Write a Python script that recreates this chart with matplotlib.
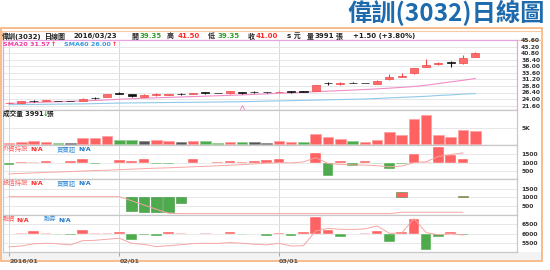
import numpy as np
import matplotlib.pyplot as plt
from matplotlib.patches import Rectangle

plt.rcParams['font.family'] = ['DejaVu Sans', 'Noto Sans CJK TC']

W, H = 550, 270

# ---- data ----
opens = [22.5, 22.7, 23.3, 23.3, 23.3, 23.3, 23.3, 24.5, 24.7, 26.4,
         25.7, 24.8, 25.4, 25.4, 25.8, 25.8, 26.4, 26.3, 26.1, 26.5,
         26.6, 26.6, 26.5, 26.7, 26.7, 27.0, 29.9, 29.5, 29.8, 29.9,
         29.5, 31.5, 32.1, 33.6, 35.9, 36.9, 37.5, 37.3, 39.35]
highs = [22.8, 23.4, 23.6, 23.7, 23.4, 23.4, 24.2, 24.7, 25.9, 26.6,
         25.8, 25.7, 26.3, 25.9, 26.1, 26.3, 26.6, 26.4, 27.1, 26.6,
         26.8, 26.7, 26.8, 26.9, 26.8, 29.3, 30.3, 30.3, 30.2, 29.9,
         30.9, 33.1, 33.5, 35.4, 38.6, 37.8, 38.1, 40.2, 41.5]
lows = [22.4, 22.6, 23.0, 23.2, 23.1, 23.1, 23.2, 24.1, 24.6, 25.7,
        24.8, 24.6, 25.2, 25.3, 25.4, 25.7, 26.0, 26.1, 26.0, 26.0,
        26.3, 26.3, 26.5, 26.4, 26.5, 26.9, 29.3, 29.0, 29.8, 29.8,
        29.4, 31.0, 32.0, 33.2, 35.7, 36.6, 35.7, 36.9, 39.35]
closes = [22.7, 23.1, 23.2, 23.5, 23.2, 23.2, 24.1, 24.3, 25.8, 25.9,
          25.0, 25.3, 26.0, 25.7, 25.7, 26.2, 26.3, 26.2, 27.0, 26.4,
          26.5, 26.5, 26.7, 26.6, 26.6, 29.2, 29.8, 29.8, 29.8, 29.8,
          30.8, 32.1, 32.5, 35.3, 36.4, 37.3, 37.3, 39.3, 41.0]
sma20 = [22.4, 22.55, 22.7, 22.85, 23.0, 23.15, 23.3, 23.45, 23.65, 23.9,
         24.1, 24.3, 24.45, 24.6, 24.75, 24.9, 25.05, 25.2, 25.35, 25.5,
         25.7, 25.9, 26.1, 26.3, 26.5, 26.7, 26.9, 27.1, 27.3, 27.5,
         27.75, 28.0, 28.3, 28.6, 29.1, 29.7, 30.3, 30.9, 31.57]
sma60 = [21.9, 21.95, 22.0, 22.05, 22.1, 22.15, 22.2, 22.3, 22.4, 22.5,
         22.55, 22.6, 22.65, 22.7, 22.75, 22.8, 22.85, 22.9, 22.95, 23.0,
         23.1, 23.2, 23.3, 23.4, 23.5, 23.6, 23.7, 23.8, 23.9, 24.0,
         24.2, 24.4, 24.6, 24.8, 25.0, 25.3, 25.5, 25.8, 26.0]
volume = [500, 800, 1100, 800, 400, 400, 2000, 1850, 2550, 1200,
          1200, 900, 1200, 900, 700, 900, 1100, 500, 800, 700,
          700, 500, 1000, 600, 700, 3150, 2150, 1550, 1100, 700,
          1400, 3750, 2950, 7750, 9000, 2950, 2150, 4300, 3991]
volume_colors = 'rrrrgkrrrggkrrkrggrgkkrrgrrrgrrrrrrrrrr'
foreign_net = [-120, 60, 20, 120, 10, 100, 215, -80, 10, 140,
               100, 215, -100, -80, 10, 200, 10, 60, 100, 60,
               80, 160, 200, -40, -30, 550, -780, 100, -200, 100,
               -50, -350, -100, 490, 20, 900, 450, 200, np.nan]
foreign_hold = [340, 370, 400, 430, 450, 480, 510, 540, 560, 590,
                620, 650, 680, 700, 730, 760, 790, 820, 850, 890,
                930, 970, 1000, 990, 1050, 1300, 950, 900, 870, 860,
                820, 760, 800, 1000, 1060, 1370, 1480, 1580, np.nan]
trust_net = [np.nan] * 10 + [-790, -850, -890, -890, -320] + [np.nan] * 17 + \
            [340, np.nan, np.nan, np.nan, np.nan, 100, np.nan]
trust_hold = [1040] * 10 + [790, 540, 290, 50] + [30] * 18 + [110] * 6 + [np.nan]
margin_net = [-10, 50, 130, 35, -50, -80, 200, 35, 35, 65,
              -360, -90, -145, 90, 35, -15, 35, -15, 110, -50,
              -15, -130, 55, -145, 70, 900, 200, -180, -30, 20,
              145, -450, 70, 800, -900, -180, 90, -90, np.nan]
margin_line = [5290, 5330, 5450, 5480, 5450, 5390, 5620, 5640, 5700, 5750,
               5480, 5420, 5300, 5350, 5400, 5460, 5480, 5470, 5520, 5480,
               5430, 5390, 5480, 5330, 5350, 6150, 6290, 6240, 6230, 6260,
               6420, 6020, 6030, 6820, 6060, 5940, 5990, 5930, np.nan]
price_ticks = [21.6, 24.0, 26.4, 28.8, 31.2, 33.6, 36.0, 38.4, 40.8, 43.2, 45.6]
month_ticks = [0, 9, 22]
month_labels = ['2016/01', '02/01', '03/01']

RED, GREEN, DARK = '#ff6262', '#4dab4d', '#555555'
x = np.arange(len(closes))

fig = plt.figure(figsize=(W / 100, H / 100), dpi=100)


def px_axes(x0, y0, x1, y1, **kw):
    return fig.add_axes([x0 / W, 1 - y1 / H, (x1 - x0) / W, (y1 - y0) / H], **kw)


def px_text(xp, yp, s, **kw):
    kw.setdefault('va', 'center')
    kw.setdefault('fontweight', 'bold')
    return fig.text(xp / W, 1 - yp / H, s, **kw)


def px_rect(x0, y0, x1, y1, **kw):
    fig.add_artist(Rectangle((x0 / W, 1 - y1 / H), (x1 - x0) / W, (y1 - y0) / H,
                             transform=fig.transFigure, zorder=-10, **kw))


# frames
px_rect(1, 28, 542, 261, facecolor='#f3f3f3', edgecolor='#f7b27a', lw=1.2)
px_rect(2, 29, 541, 252, facecolor='white', edgecolor='none')
px_rect(2, 31, 541, 40, facecolor='white', edgecolor='#f7c9a0', lw=0.8)

# title
px_text(545, 13, '偉訓(3032)日線圖', ha='right', fontsize=17.5, color='#1d6aad',
        family=['Noto Sans CJK TC', 'DejaVu Sans'])

# header line
hdr = [('偉訓(3032)', 2, '#222'), ('日線圖', 45, '#222'), ('2016/03/23', 73, '#222'),
       ('開', 131, '#222'), ('39.35', 140, '#2e9e2e'), ('高', 167, '#222'),
       ('41.50', 178, '#ff2a2a'), ('低', 208, '#222'), ('39.35', 218, '#2e9e2e'),
       ('收', 248, '#222'), ('41.00', 256, '#ff2a2a'), ('s 元', 287, '#222'),
       ('量', 307, '#222'), ('3991', 315, '#222'), ('張', 336, '#222'),
       ('+1.50 (+3.80%)', 353, '#222')]
for s, xp, c in hdr:
    px_text(xp, 36, s, fontsize=5.0, color=c)

XL = ((3 - 9) / 12.27, (517 - 9) / 12.27)


def setup(ax, ylim, ticks, labels, edge='#c8c8c8'):
    ax.set_xlim(*XL)
    ax.set_ylim(*ylim)
    ax.set_yticks(ticks)
    ax.set_yticklabels(labels)
    ax.yaxis.tick_right()
    ax.tick_params(axis='y', length=0, pad=3, labelsize=4.3, labelcolor='#333')
    for lab in ax.get_yticklabels():
        lab.set_fontweight('bold')
    ax.set_xticks([])
    ax.grid(axis='y', color='#e3e3e3', lw=0.6)
    ax.set_axisbelow(True)
    for xm in month_ticks:
        ax.axvline(xm, color='#d8d8d8', lw=0.7, zorder=0)
    for sp in ax.spines.values():
        sp.set_color(edge)
        sp.set_linewidth(0.9)


def bar_colors(vals):
    out = []
    for v in vals:
        if np.isnan(v):
            out.append('none')
        elif abs(v) <= 50:
            out.append('#ffb0b0' if v > 0 else '#a8d8a8')
        else:
            out.append(RED if v > 0 else GREEN)
    return out


# ---- price panel ----
ax = px_axes(3, 40, 517, 110)
setup(ax, (19.94, 45.78), price_ticks, ['%.2f' % t for t in price_ticks], edge='#eaa2e6')
ax.plot(x, sma60, color='#8fc9ea', lw=0.8)
ax.plot(x, sma20, color='#f08cc8', lw=0.8)
for i in x:
    o, h, l, c = opens[i], highs[i], lows[i], closes[i]
    up = c > o
    col = '#f04a4a' if up else '#111111'
    ax.vlines(i, l, h, color=col, lw=0.8, zorder=3)
    ax.bar(i, max(abs(c - o), 0.18), bottom=min(o, c), width=0.66,
           color='#ff6b6b' if up else '#111111', edgecolor=col, lw=0.5, zorder=4)
ax.plot([19], [20.7], marker='^', ms=4, mfc='white', mec='#f08cc8', mew=0.7)
px_text(3, 44.5, 'SMA20 31.57', fontsize=4.6, color='#ee3fa0')
px_text(51, 44.5, '↑', fontsize=4.6, color='#ff2a2a')
px_text(64, 44.5, 'SMA60 26.00', fontsize=4.6, color='#3399dd')
px_text(112, 44.5, '↑', fontsize=4.6, color='#ff2a2a')

# ---- volume panel ----
ax = px_axes(3, 110, 517, 145)
setup(ax, (-215, 10500), [5000], ['5K'])
cmap = {'r': RED, 'g': GREEN, 'k': DARK}
ecmap = {'r': '#ffa0a0', 'g': '#90cf90', 'k': '#888888'}
ax.bar(x, volume, width=0.86, color=[cmap[c] for c in volume_colors],
       edgecolor=[ecmap[c] for c in volume_colors], lw=0.5, zorder=3)
px_text(3, 113.5, '成交量 3991', fontsize=4.8, color='#222')
px_text(43, 113.5, '↓', fontsize=4.8, color='#2e9e2e')
px_text(47, 113.5, '張', fontsize=4.8, color='#222')

# ---- foreign investors panel ----
ax = px_axes(3, 145, 517, 179)
setup(ax, (42, 2041), [500, 1000, 1500], ['500', '1000', '1500'])
ax.bar(x, foreign_net, bottom=1000, width=0.86, color=bar_colors(foreign_net),
       edgecolor='white', lw=0.3, zorder=3)
ax.plot(x, foreign_hold, color='#f7a5a5', lw=0.7, zorder=4)
px_text(3, 149, '外資持股', fontsize=4.6, color='#ff6060', fontweight='normal')
px_text(30, 149, 'N/A', fontsize=4.6, color='#ff2a2a')
px_text(57, 149, '買賣超', fontsize=4.6, color='#3a8fd6', fontweight='normal')
px_text(78, 149, 'N/A', fontsize=4.6, color='#1f78c8')

# ---- investment trust panel ----
ax = px_axes(3, 179, 517, 215)
setup(ax, (-53, 2089), [500, 1000, 1500], ['500', '1000', '1500'])
ax.bar(x, trust_net, bottom=1000, width=0.86, color=bar_colors(trust_net),
       edgecolor='#3d8f3d', lw=0.4, zorder=3)
ax.plot(x, trust_hold, color='#f7a5a5', lw=0.7, zorder=4)
px_text(3, 183, '投信持股', fontsize=4.6, color='#ff6060', fontweight='normal')
px_text(30, 183, 'N/A', fontsize=4.6, color='#ff2a2a')
px_text(57, 183, '買賣超', fontsize=4.6, color='#3a8fd6', fontweight='normal')
px_text(78, 183, 'N/A', fontsize=4.6, color='#1f78c8')

# ---- margin panel ----
ax = px_axes(3, 215, 517, 252)
setup(ax, (5006, 7015), [5500, 6000, 6500], ['5500', '6000', '6500'])
ax.bar(x, margin_net, bottom=6000, width=0.86, color=bar_colors(margin_net),
       edgecolor='white', lw=0.3, zorder=3)
ax.plot(x, margin_line, color='#f7a5a5', lw=0.7, zorder=4)
ax.set_xticks(month_ticks)
ax.set_xticklabels(month_labels)
ax.tick_params(axis='x', length=3, color='#aaaaaa', pad=1.5, labelsize=4.6,
               labelcolor='#555')
for lab in ax.get_xticklabels():
    lab.set_fontweight('bold')
    lab.set_horizontalalignment('left')
px_text(3, 219.5, '融資', fontsize=4.6, color='#ff6060', fontweight='normal')
px_text(16, 219.5, 'N/A', fontsize=4.6, color='#ff2a2a')
px_text(44, 219.5, '融券', fontsize=4.6, color='#3a8fd6', fontweight='normal')
px_text(58, 219.5, 'N/A', fontsize=4.6, color='#1f78c8')

fig.savefig('out.png', dpi=100)
